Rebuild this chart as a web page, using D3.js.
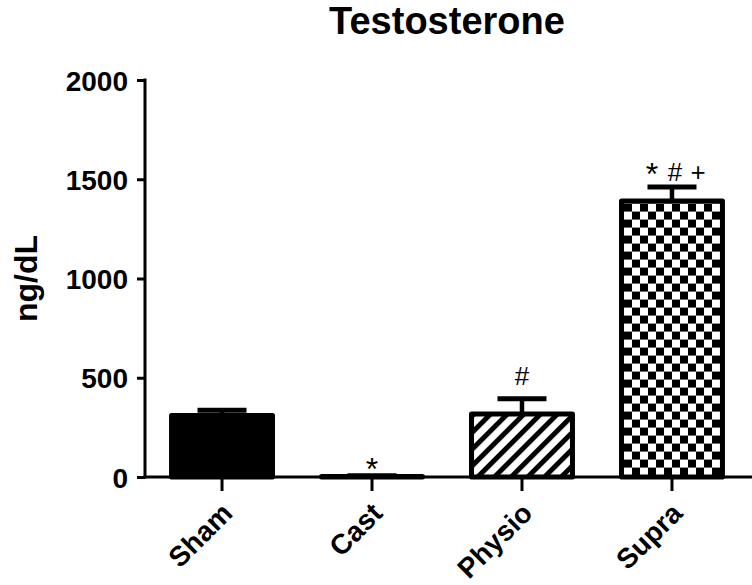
<!DOCTYPE html>
<html>
<head>
<meta charset="utf-8">
<script src="https://cdn.jsdelivr.net/npm/d3@7/dist/d3.min.js"></script>
<style>
  html, body { margin: 0; padding: 0; background: #fff; }
  svg { display: block; }
  text { font-family: "Liberation Sans", Arial, Helvetica, sans-serif; fill: #000; }
</style>
</head>
<body>
<svg id="chart" width="752" height="585"></svg>
<script>
// ---- Data ----
const categories = ["Sham", "Cast", "Physio", "Supra"];
const means = [310, 3, 317, 1390];
const sems = [26, 3, 77, 71];
const significance = [[], ["*"], ["#"], ["*", "#", "+"]];
const yTicks = [0, 500, 1000, 1500, 2000];
const titleText = "Testosterone";
const yLabel = "ng/dL";

// ---- Layout ----
const svg = d3.select("#chart");
const W = 752, H = 585;
const axisX = 145, axisY = 477, topY = 80;

const x = d3.scaleBand()
  .domain(categories)
  .range([axisX, 749])
  .paddingInner(0.327)
  .paddingOuter(0.177);

const y = d3.scaleLinear().domain([0, 2000]).range([axisY, topY]);

// ---- Patterns ----
const defs = svg.append("defs");
const stripe = defs.append("pattern")
  .attr("id", "stripes")
  .attr("patternUnits", "userSpaceOnUse")
  .attr("width", 11.8).attr("height", 11.8)
  .attr("patternTransform", "rotate(45)");
stripe.append("rect").attr("width", 11.8).attr("height", 11.8).attr("fill", "#fff");
stripe.append("rect").attr("x", 0).attr("width", 5).attr("height", 11.8).attr("fill", "#000");

const sq = 8;
const checker = defs.append("pattern")
  .attr("id", "checker")
  .attr("patternUnits", "userSpaceOnUse")
  .attr("x", x("Supra") + 2.5)
  .attr("y", y(means[3]) + 2.5)
  .attr("width", sq * 2).attr("height", sq * 2);
checker.append("rect").attr("width", sq * 2).attr("height", sq * 2).attr("fill", "#fff");
checker.append("rect").attr("x", 0).attr("y", 0).attr("width", sq).attr("height", sq).attr("fill", "#000");
checker.append("rect").attr("x", sq).attr("y", sq).attr("width", sq).attr("height", sq).attr("fill", "#000");

const fills = ["#000", "#fff", "url(#stripes)", "url(#checker)"];

// ---- Error bars (upper only) ----
const capW = 49;
const eb = svg.append("g");
categories.forEach((c, i) => {
  const cx = x(c) + x.bandwidth() / 2;
  eb.append("line")
    .attr("x1", cx).attr("x2", cx)
    .attr("y1", y(means[i])).attr("y2", y(means[i] + sems[i]))
    .attr("stroke", "#000").attr("stroke-width", 4.5);
  eb.append("line")
    .attr("x1", cx - capW / 2).attr("x2", cx + capW / 2)
    .attr("y1", y(means[i] + sems[i])).attr("y2", y(means[i] + sems[i]))
    .attr("stroke", "#000").attr("stroke-width", 5);
});

// ---- Bars ----
svg.append("g").selectAll("rect")
  .data(categories)
  .join("rect")
  .attr("x", d => x(d))
  .attr("y", (d, i) => y(means[i]))
  .attr("width", x.bandwidth())
  .attr("height", (d, i) => Math.max(0, y(0) - y(means[i])))
  .attr("fill", (d, i) => fills[i])
  .attr("stroke", "#000")
  .attr("stroke-width", 5)
  .attr("stroke-linejoin", "round");

// ---- Axes ----
const yAxis = d3.axisLeft(y).tickValues(yTicks).tickSize(8).tickPadding(9).tickFormat(d3.format("d"));
const gy = svg.append("g").attr("transform", `translate(${axisX},0)`).call(yAxis);
gy.select(".domain").remove();
gy.selectAll(".tick line").attr("stroke", "#000").attr("stroke-width", 3);
gy.selectAll(".tick text")
  .attr("font-size", 28).attr("font-weight", "bold")
  .attr("font-family", '"Liberation Sans", Arial, sans-serif')
  .attr("dy", "0.36em");
svg.append("line")
  .attr("x1", axisX).attr("x2", axisX)
  .attr("y1", y(2000) - 1.5).attr("y2", axisY + 1.5)
  .attr("stroke", "#000").attr("stroke-width", 3);

const xAxis = d3.axisBottom(x).tickSize(14).tickFormat("");
const gx = svg.append("g").attr("transform", `translate(0,${axisY})`).call(xAxis);
gx.select(".domain").remove();
gx.selectAll(".tick line").attr("stroke", "#000").attr("stroke-width", 3);
svg.append("line")
  .attr("x1", axisX - 1.5).attr("x2", W)
  .attr("y1", axisY).attr("y2", axisY)
  .attr("stroke", "#000").attr("stroke-width", 3);

// x labels rotated
svg.append("g").selectAll("text")
  .data(categories)
  .join("text")
  .attr("transform", d => `translate(${x(d) + x.bandwidth() / 2 + 12},515) rotate(-45)`)
  .attr("text-anchor", "end")
  .attr("font-size", 28)
  .attr("font-weight", "bold")
  .text(d => d);

// ---- Significance marks ----
const gaps = [0, 0, 13.5, 6];
const dxs = [0, 0, 0, 3];
const sigG = svg.append("g");
categories.forEach((c, i) => {
  const syms = significance[i];
  if (!syms.length) return;
  const cx = x(c) + x.bandwidth() / 2 + dxs[i];
  const by = y(means[i] + sems[i]) - gaps[i];
  const spacing = 23;
  syms.forEach((s, k) => {
    const sx = cx + (k - (syms.length - 1) / 2) * spacing;
    sigG.append("text")
      .attr("x", sx)
      .attr("y", s === "*" ? by + 4 : by)
      .attr("text-anchor", "middle")
      .attr("font-size", s === "*" ? 32 : 26)
      .text(s);
  });
});

// ---- Title & y label ----
svg.append("text")
  .attr("x", (axisX + 749) / 2).attr("y", 34)
  .attr("text-anchor", "middle")
  .attr("font-size", 38).attr("font-weight", "bold")
  .text(titleText);

svg.append("text")
  .attr("transform", `translate(37,${(y(0) + y(2000)) / 2}) rotate(-90)`)
  .attr("text-anchor", "middle")
  .attr("font-size", 32).attr("font-weight", "bold")
  .text(yLabel);
</script>
</body>
</html>
